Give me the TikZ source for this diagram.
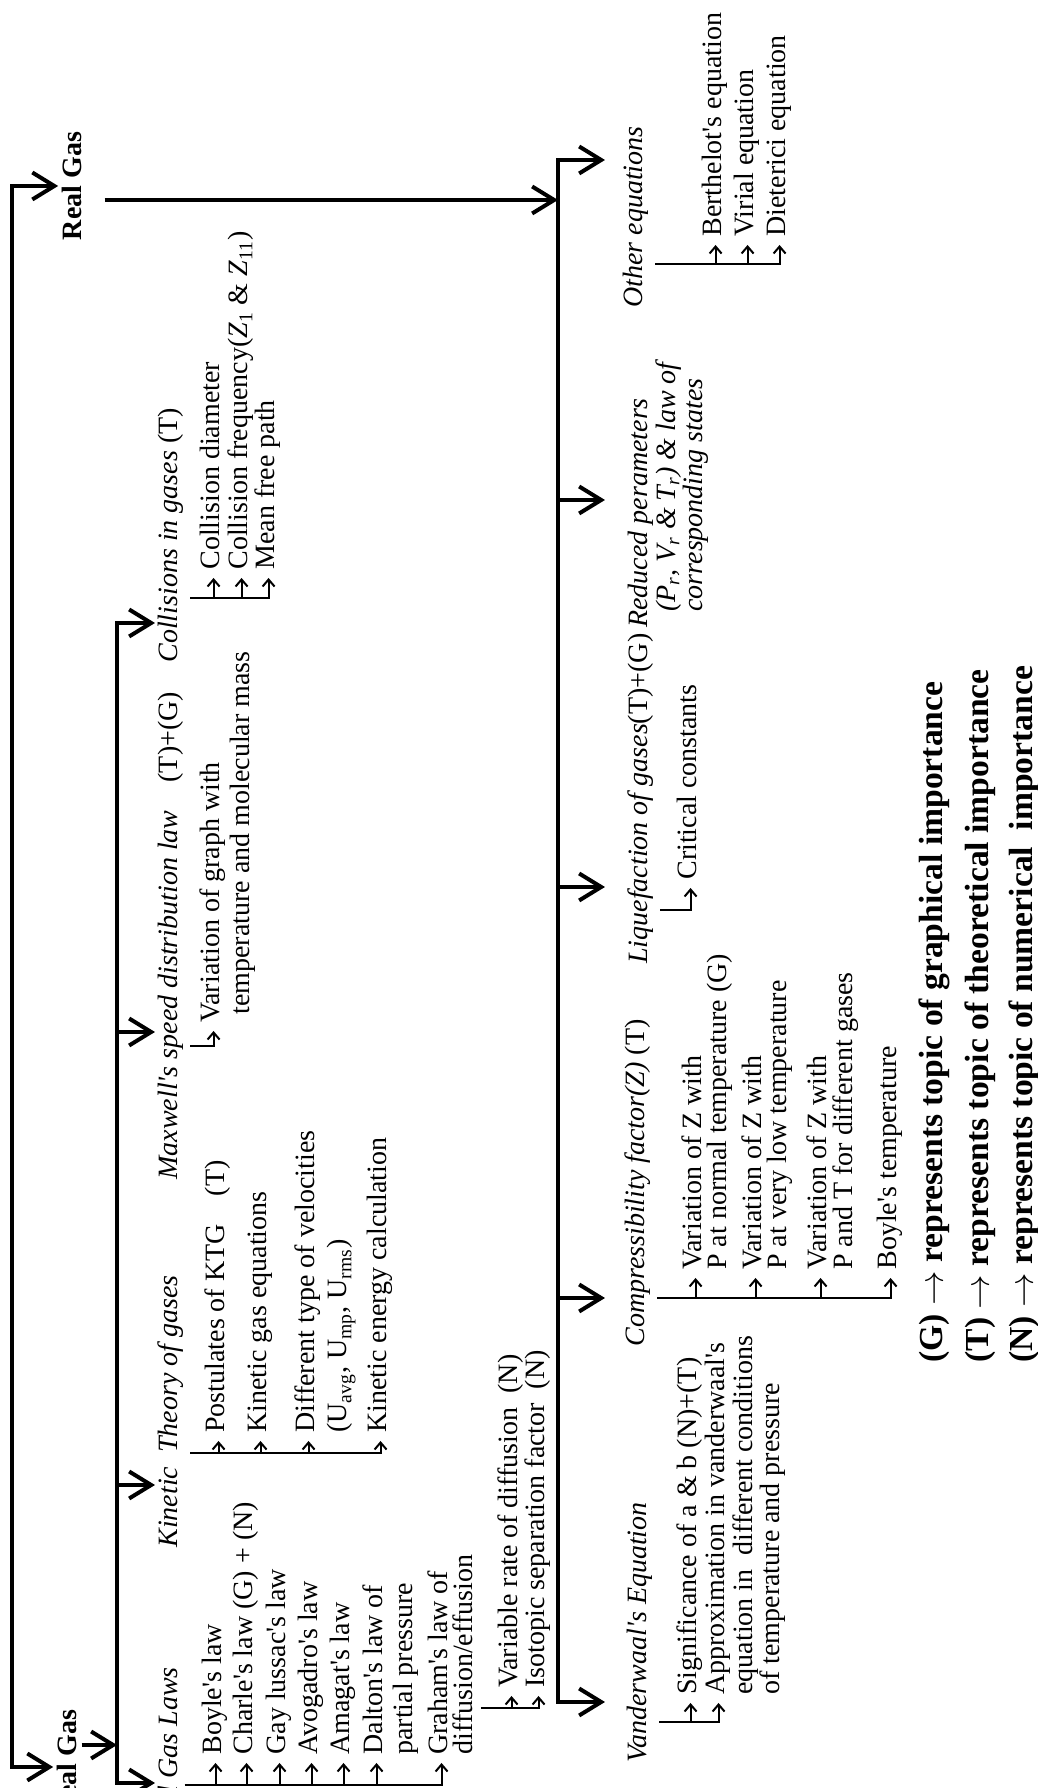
\documentclass[tikz,border=0pt]{standalone}
\usepackage{fontspec}
\setmainfont{Liberation Serif}[Ligatures=TeXOff]
\usetikzlibrary{arrows.meta}
\newcommand{\itemlines}[1]{\begin{tabular}[t]{@{}l@{}}#1\end{tabular}}
\tikzset{
  bigtip/.tip={Straight Barb[length=11pt,width=13.5pt]},
  smalltip/.tip={Straight Barb[length=3.5pt,width=6pt]},
  bus/.style={line width=2pt},
  big/.style={line width=2pt,-bigtip},
  bigboth/.style={line width=2pt,bigtip-bigtip},
  tick/.style={line width=1pt,-smalltip},
  title/.style={inner sep=2pt,font=\bfseries},
  head/.style={anchor=base west,inner xsep=0pt,inner ysep=3pt,font=\itshape},
  item/.style={anchor=base west,inner xsep=4pt,inner ysep=0pt},
  legend/.style={anchor=base west,inner sep=0pt,font=\fontsize{16.8}{19}\selectfont\bfseries}
}
\begin{document}
\fontsize{14}{14}\selectfont
\begin{tikzpicture}[x=0.5pt,y=0.5pt,rotate=90,transform shape]
\useasboundingbox (0,0) rectangle (1788,1038);
\node [title,anchor=base] (ideal) at (21,961) {Ideal Gas};
\node [title,anchor=base] (real) at (1602,956) {Real Gas};
\coordinate (root) at (800,1026);
\draw [bigboth] (ideal.north) |- (root) -| (real.north);
\coordinate (itip) at (0,883);
\coordinate (ib0) at (43,921);
\coordinate (ib1) at (5,921);
\coordinate (ib2) at (303,921);
\coordinate (ib3) at (756,921);
\coordinate (ib4) at (1165,921);
\draw [big] (ideal.south -| ib0) -- (ib0);
\draw [bigboth] (ib1 |- itip) -- (ib1) -- (ib4) -- (ib4 |- itip);
\draw [big] (ib2) -- (ib2 |- itip);
\draw [big] (ib3) -- (ib3 |- itip);
\coordinate (rtip) at (0,433);
\coordinate (rb0) at (1588,480);
\coordinate (rb1) at (86,480);
\coordinate (rb2) at (490,480);
\coordinate (rb3) at (901,480);
\coordinate (rb4) at (1288,480);
\coordinate (rb5) at (1628,480);
\draw [big,shorten <=9pt] (real.south -| rb0) -- (rb0);
\draw [bigboth] (rb1 |- rtip) -- (rb1) -- (rb5) -- (rb5 |- rtip);
\draw [big] (rb2) -- (rb2 |- rtip);
\draw [big] (rb3) -- (rb3 |- rtip);
\draw [big] (rb4) -- (rb4 |- rtip);
\node [head,anchor=base east] (laws) at (121,860) {Ideal Gas Laws};
\node [head] (ktg) at (240,860) {Kinetic\enspace Theory of gases};
\node [head] (maxw) at (608,860) {Maxwell's speed distribution law\quad\upshape(T)+(G)};
\node [head] (coll) at (1125,860) {Collisions in gases \upshape(T)};
\node [head] (vdw) at (25,391) {Vanderwaal's Equation};
\node [head] (comp) at (441,393) {Compressibility factor(Z) \upshape(T)};
\node [head] (liq) at (824,390) {Liquefaction of gases\upshape(T)+(G)};
\node [head] (red) at (1160,390) {\itemlines{Reduced perameters\\[-0.5pt]\hspace*{8pt}(P\textsubscript{r}, V\textsubscript{r} \& T\textsubscript{r}) \& law of\\[-0.5pt]\hspace*{8pt}corresponding states}};
\node [head] (other) at (1480,395) {Other equations};
\node [item] (boyle) at (25,816) {Boyle's law};
\node [item] (charle) at (25,785) {Charle's law (G) + (N)};
\node [item] (gay) at (25,752) {Gay lussac's law};
\node [item] (avo) at (25,720) {Avogadro's law};
\node [item] (ama) at (25,688) {Amagat's law};
\node [item] (dalton) at (25,655) {\itemlines{Dalton's law of\\[1pt]partial pressure}};
\node [item] (graham) at (25,590) {\itemlines{Graham's law of\\[-2pt]diffusion/effusion}};
\node [item] (diff) at (92,520) {Variable rate of diffusion\ \ (N)};
\node [item] (iso) at (92,493) {Isotopic separation factor\ \ (N)};
\node [item] (post) at (347,813) {Postulates of KTG\quad(T)};
\node [item] (kge) at (347,771) {Kinetic gas equations};
\node [item] (vel) at (347,723) {\itemlines{Different type of velocities\\[2pt](U\textsubscript{avg}, U\textsubscript{mp}, U\textsubscript{rms})}};
\node [item] (ke) at (347,651) {Kinetic energy calculation};
\node [item] (mvar) at (757,818) {\itemlines{Variation of graph with\\[1pt]\hspace*{4pt}temperature and molecular mass}};
\node [item] (cd) at (1210,818) {Collision diameter};
\node [item] (cf) at (1210,790) {Collision frequency(\textit{Z}\textsubscript{1} \& \textit{Z}\textsubscript{11})};
\node [item] (mfp) at (1210,763) {Mean free path};
\node [item] (sig) at (85,341) {Significance of a \& b (N)+(T)};
\node [item] (appr) at (85,313) {\itemlines{Approximation in vanderwaal's\\[-0.5pt]equation in\ \ different conditions\\[-0.5pt]of temperature and pressure}};
\node [item] (z1) at (510,336) {\itemlines{Variation of Z with\\[-1.5pt]P at normal temperature (G)}};
\node [item] (z2) at (510,276) {\itemlines{Variation of Z with\\[-1.5pt]P at very low temperature}};
\node [item] (z3) at (510,211) {\itemlines{Variation of Z with\\[-1.5pt]P and T for different gases}};
\node [item] (z4) at (510,141) {Boyle's temperature};
\node [item] (crit) at (900,341) {Critical constants};
\node [item] (bert) at (1543,316) {Berthelot's equation};
\node [item] (vir) at (1543,284) {Virial equation};
\node [item] (diet) at (1543,252) {Dieterici equation};
\coordinate (lb) at (3,0);
\coordinate (gb) at (80,0);
\coordinate (kb) at (335,0);
\coordinate (mb) at (742,0);
\coordinate (cb) at (1190,0);
\coordinate (vb) at (66,0);
\coordinate (zb) at (490,0);
\coordinate (qb) at (878,0);
\coordinate (ob) at (1524,0);
\draw [tick] (laws.south -| lb) |- (graham.mid west);
\draw [tick] (lb |- boyle.mid west) -- (boyle.mid west);
\draw [tick] (lb |- charle.mid west) -- (charle.mid west);
\draw [tick] (lb |- gay.mid west) -- (gay.mid west);
\draw [tick] (lb |- avo.mid west) -- (avo.mid west);
\draw [tick] (lb |- ama.mid west) -- (ama.mid west);
\draw [tick] (lb |- dalton.mid west) -- (dalton.mid west);
\draw [tick] (graham.south -| gb) |- (iso.mid west);
\draw [tick] (gb |- diff.mid west) -- (diff.mid west);
\draw [tick] (ktg.south -| kb) |- (ke.mid west);
\draw [tick] (kb |- post.mid west) -- (post.mid west);
\draw [tick] (kb |- kge.mid west) -- (kge.mid west);
\draw [tick] (kb |- vel.mid west) -- (vel.mid west);
\draw [tick] (maxw.south -| mb) |- (mvar.mid west);
\draw [tick] (coll.south -| cb) |- (mfp.mid west);
\draw [tick] (cb |- cd.mid west) -- (cd.mid west);
\draw [tick] (cb |- cf.mid west) -- (cf.mid west);
\draw [tick] (vdw.south -| vb) |- (appr.mid west);
\draw [tick] (vb |- sig.mid west) -- (sig.mid west);
\draw [tick] (comp.south -| zb) |- (z4.mid west);
\draw [tick] (zb |- z1.mid west) -- (z1.mid west);
\draw [tick] (zb |- z2.mid west) -- (z2.mid west);
\draw [tick] (zb |- z3.mid west) -- (z3.mid west);
\draw [tick] (liq.south -| qb) |- (crit.mid west);
\draw [tick] (other.south -| ob) |- (diet.mid west);
\draw [tick] (ob |- bert.mid west) -- (bert.mid west);
\draw [tick] (ob |- vir.mid west) -- (vir.mid west);
\node [legend] (lg) at (425,95) {(G) $\rightarrow$ represents topic of graphical importance};
\node [legend] (lt) at (425,49) {(T) $\rightarrow$ represents topic of theoretical importance};
\node [legend] (ln) at (425,5) {(N) $\rightarrow$ represents topic of numerical\ \ importance};
\end{tikzpicture}
\end{document}
